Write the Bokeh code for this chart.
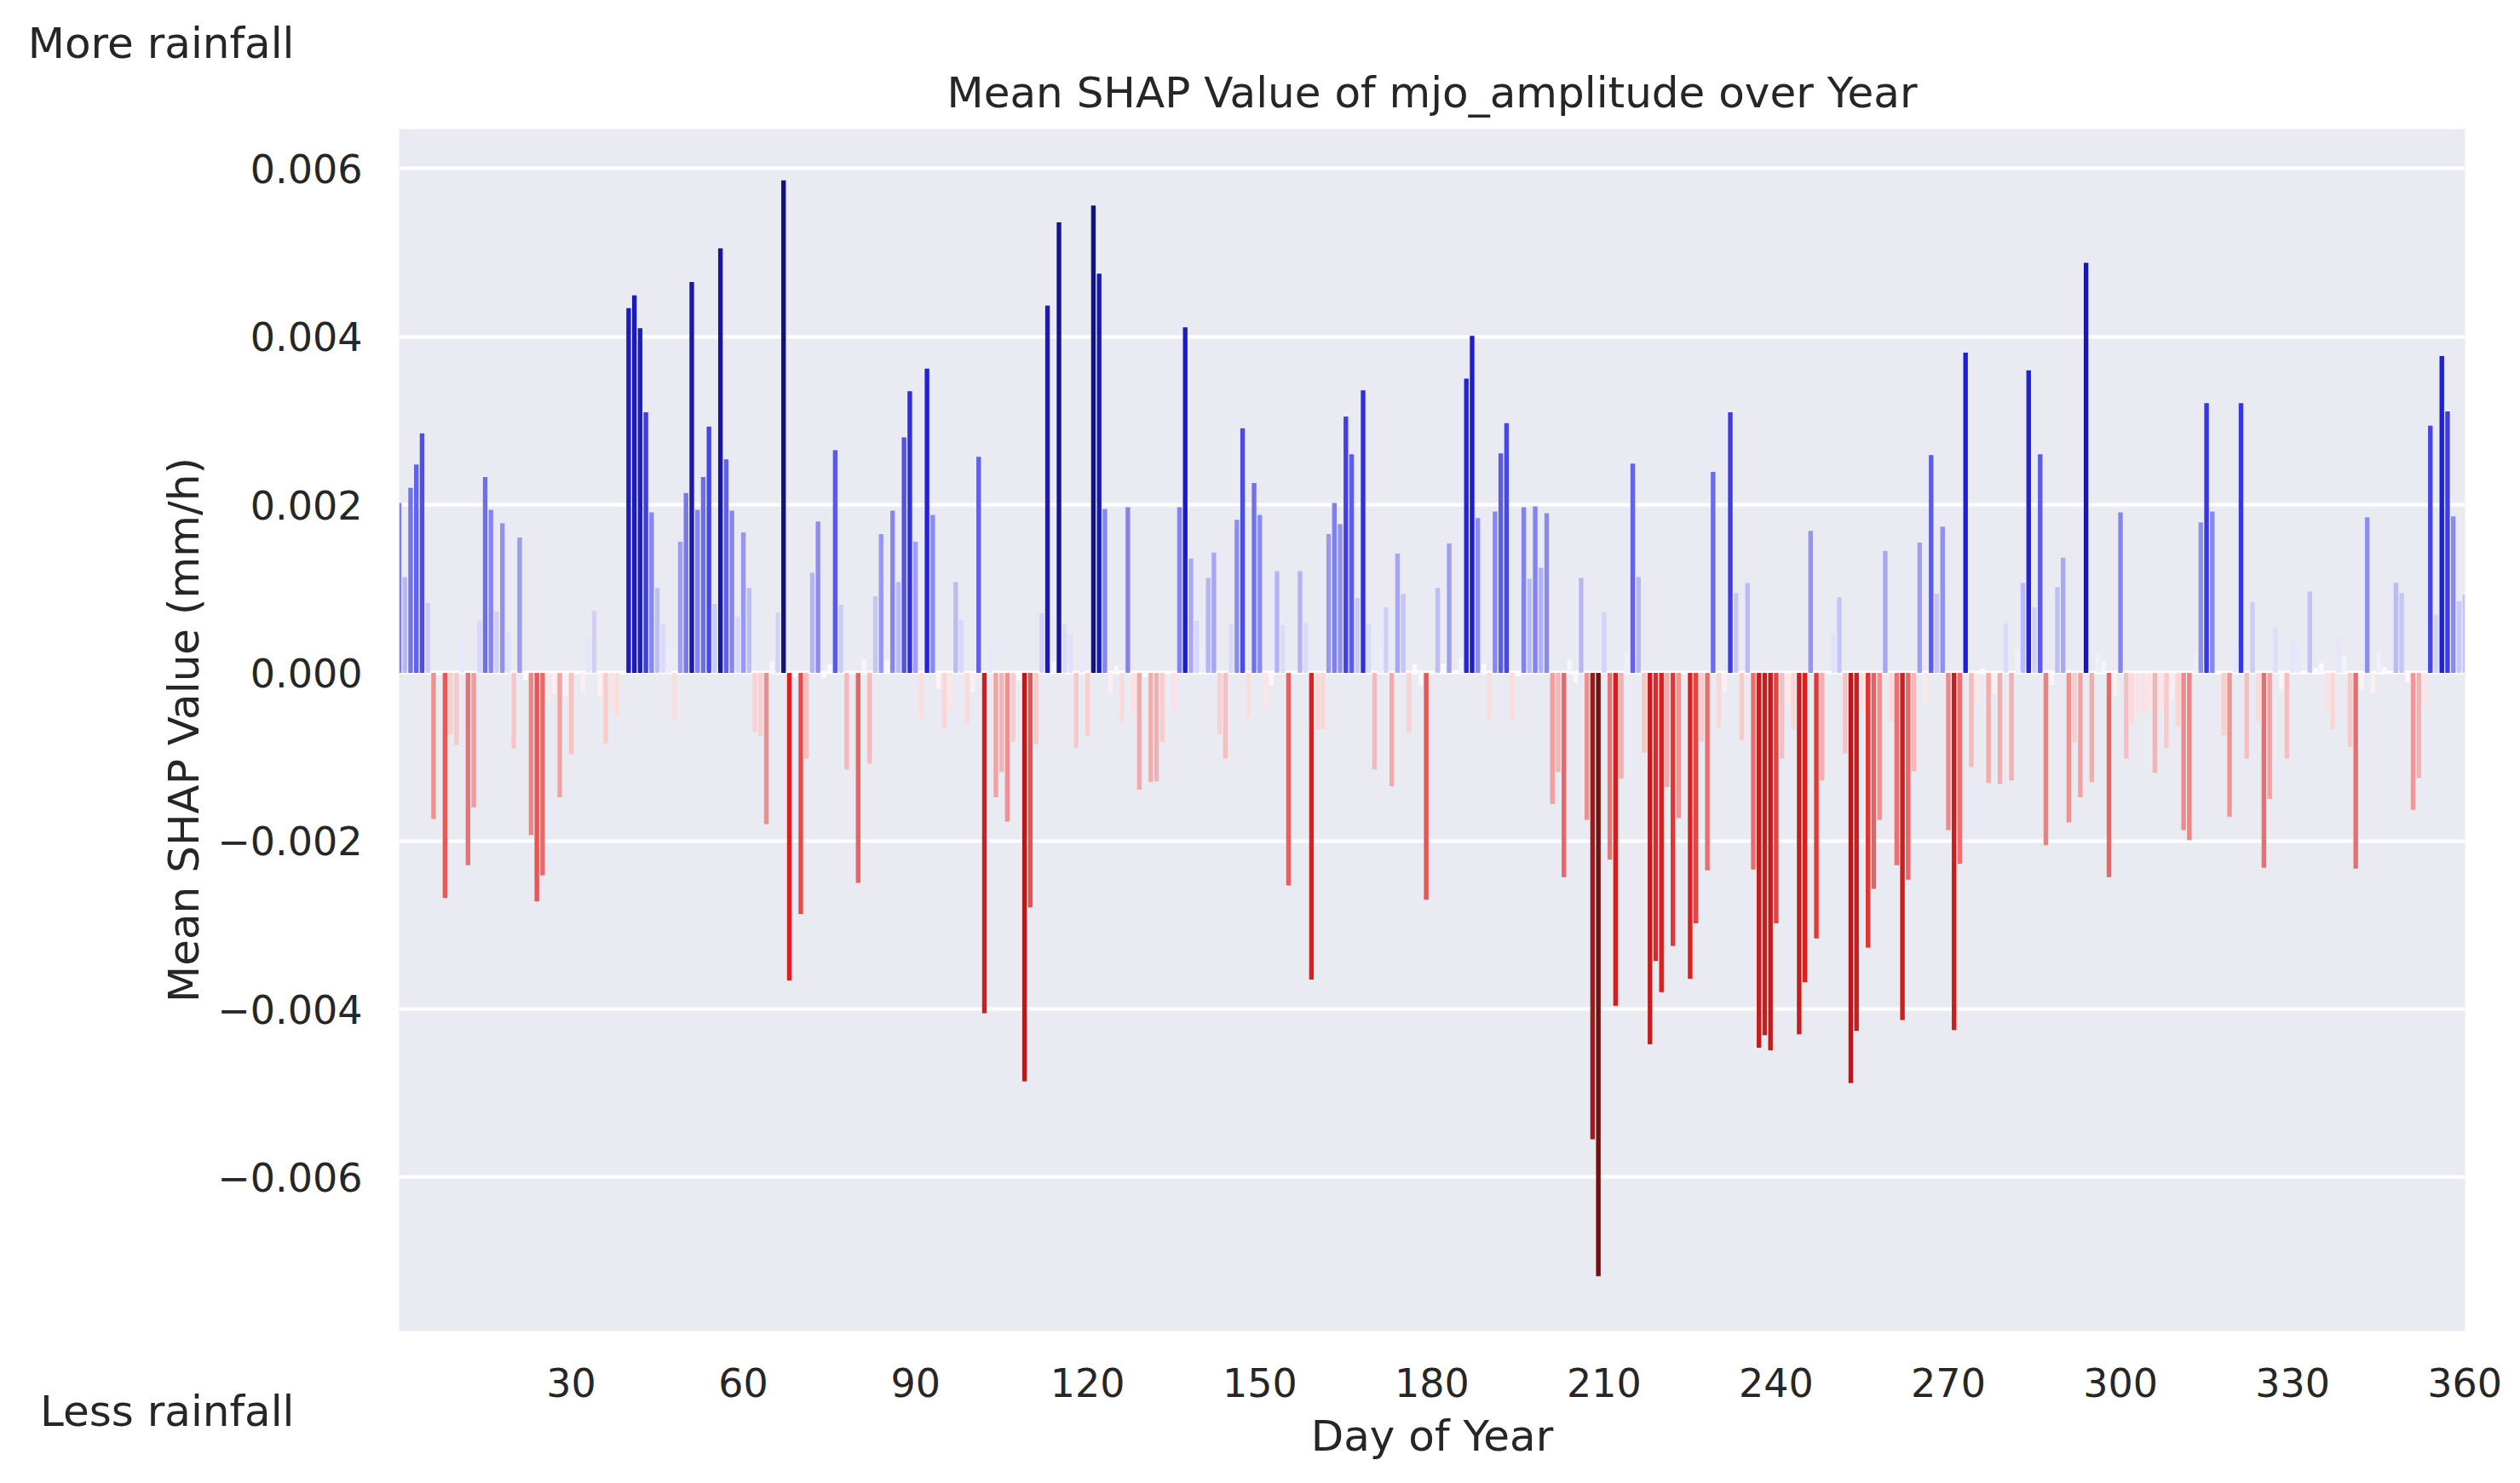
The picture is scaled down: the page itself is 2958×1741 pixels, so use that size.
import colorsys

from bokeh.embed import file_html
from bokeh.models import (ColumnDataSource, CustomJSTickFormatter, FixedTicker,
                          LinearColorMapper, Range1d, Title)
from bokeh.plotting import figure
from bokeh.resources import INLINE

# mean SHAP value per day-of-year position (0..360)
shap_values = [
    0.00202, 0.00114, 0.00220, 0.00248, 0.00285, 0.00083, -0.00174, -0.00003, -0.00268, -0.00073,
    -0.00086, 0.00039, -0.00229, -0.00160, 0.00062, 0.00233, 0.00194, 0.00073, 0.00178, 0.00049,
    -0.00090, 0.00161, -0.00009, -0.00193, -0.00272, -0.00241, -0.00036, -0.00025, -0.00148, -0.00028,
    -0.00097, -0.00002, -0.00023, 0.00042, 0.00074, -0.00028, -0.00084, -0.00045, -0.00052, 0.00000,
    0.00434, 0.00449, 0.00410, 0.00310, 0.00191, 0.00101, 0.00058, 0.00032, -0.00055, 0.00156,
    0.00214, 0.00465, 0.00194, 0.00233, 0.00293, 0.00082, 0.00505, 0.00254, 0.00193, 0.00067,
    0.00167, 0.00101, -0.00071, -0.00075, -0.00180, 0.00014, 0.00072, 0.00586, -0.00366, -0.00005,
    -0.00287, -0.00102, 0.00119, 0.00180, -0.00006, 0.00010, 0.00265, 0.00081, -0.00115, 0.00000,
    -0.00250, 0.00016, -0.00108, 0.00091, 0.00165, 0.00016, 0.00193, 0.00108, 0.00280, 0.00335,
    0.00156, -0.00054, 0.00362, 0.00188, -0.00019, -0.00066, -0.00042, 0.00108, 0.00063, -0.00061,
    -0.00023, 0.00257, -0.00405, 0.00039, -0.00148, -0.00118, -0.00177, -0.00082, -0.00009, -0.00486,
    -0.00279, -0.00085, 0.00071, 0.00437, 0.00013, 0.00536, 0.00058, 0.00047, -0.00089, 0.00034,
    -0.00075, 0.00556, 0.00475, 0.00195, -0.00023, 0.00008, -0.00058, 0.00197, -0.00048, -0.00139,
    -0.00005, -0.00130, -0.00129, -0.00082, 0.00000, -0.00046, 0.00197, 0.00411, 0.00136, 0.00062,
    0.00031, 0.00113, 0.00143, -0.00073, -0.00102, 0.00058, 0.00182, 0.00291, -0.00053, 0.00226,
    0.00188, -0.00043, -0.00015, 0.00121, 0.00057, -0.00253, 0.00000, 0.00121, 0.00059, -0.00365,
    -0.00067, -0.00067, 0.00165, 0.00202, 0.00177, 0.00305, 0.00260, 0.00089, 0.00336, 0.00058,
    -0.00115, 0.00031, 0.00078, -0.00135, 0.00142, 0.00094, -0.00071, 0.00010, -0.00015, -0.00270,
    0.00000, 0.00101, 0.00011, 0.00154, 0.00003, 0.00017, 0.00350, 0.00401, 0.00184, 0.00011,
    -0.00056, 0.00192, 0.00261, 0.00297, -0.00056, -0.00004, 0.00197, 0.00112, 0.00198, 0.00125,
    0.00190, -0.00156, -0.00118, -0.00243, 0.00016, -0.00012, 0.00113, -0.00175, -0.00555, -0.00718,
    0.00072, -0.00222, -0.00396, -0.00126, 0.00024, 0.00249, 0.00114, -0.00095, -0.00442, -0.00343,
    -0.00380, -0.00136, -0.00325, -0.00173, 0.00000, -0.00364, -0.00298, -0.00082, -0.00235, 0.00239,
    -0.00066, -0.00023, 0.00310, 0.00095, -0.00080, 0.00107, -0.00234, -0.00446, -0.00431, -0.00449,
    -0.00298, -0.00102, -0.00038, -0.00067, -0.00430, -0.00368, 0.00169, -0.00316, -0.00128, 0.00002,
    0.00047, 0.00090, -0.00096, -0.00488, -0.00426, -0.00047, -0.00327, -0.00257, -0.00175, 0.00145,
    -0.00058, -0.00229, -0.00413, -0.00246, -0.00117, 0.00155, -0.00035, 0.00259, 0.00094, 0.00174,
    -0.00187, -0.00425, -0.00227, 0.00381, -0.00112, -0.00036, 0.00005, -0.00131, -0.00025, -0.00132,
    0.00059, -0.00128, 0.00028, 0.00107, 0.00360, 0.00078, 0.00260, -0.00205, -0.00014, 0.00102,
    0.00137, -0.00178, -0.00083, -0.00148, 0.00488, -0.00130, 0.00023, 0.00014, -0.00243, -0.00028,
    0.00191, -0.00102, -0.00060, -0.00050, -0.00047, -0.00043, -0.00119, -0.00042, -0.00089, -0.00032,
    -0.00064, -0.00187, -0.00199, 0.00023, 0.00179, 0.00321, 0.00192, 0.00000, -0.00074, -0.00171,
    0.00034, 0.00321, -0.00102, 0.00084, -0.00058, -0.00232, -0.00150, 0.00054, -0.00019, -0.00102,
    0.00040, 0.00035, 0.00001, 0.00097, 0.00006, 0.00011, -0.00045, -0.00067, 0.00043, 0.00019,
    -0.00088, -0.00233, -0.00019, 0.00185, -0.00024, 0.00025, 0.00007, 0.00001, 0.00107, 0.00095,
    -0.00011, -0.00163, -0.00125, -0.00043, 0.00294, 0.00069, 0.00377, 0.00311, 0.00186, 0.00085,
    0.00093,
]
day_positions = list(range(len(shap_values)))

x_ticks = [30, 60, 90, 120, 150, 180, 210, 240, 270, 300, 330, 360]
y_ticks = [-0.006, -0.004, -0.002, 0.0, 0.002, 0.004, 0.006]

TEXT = "#262626"
FONT = "DejaVu Sans"


def seismic(s):
    # matplotlib "seismic" anchors
    pts = [(0.0, (0.0, 0.0, 0.3)), (0.25, (0.0, 0.0, 1.0)), (0.5, (1.0, 1.0, 1.0)),
           (0.75, (1.0, 0.0, 0.0)), (1.0, (0.5, 0.0, 0.0))]
    for (s0, c0), (s1, c1) in zip(pts[:-1], pts[1:]):
        if s <= s1:
            f = (s - s0) / (s1 - s0)
            return tuple(a + (b - a) * f for a, b in zip(c0, c1))
    return pts[-1][1]


def desaturate(rgb, prop=0.75):
    h, l, s = colorsys.rgb_to_hls(*rgb)
    r, g, b = colorsys.hls_to_rgb(h, l, s * prop)
    return "#%02x%02x%02x" % (round(r * 255), round(g * 255), round(b * 255))


# reversed seismic: negative -> red, positive -> blue
palette = [desaturate(seismic(1 - i / 255)) for i in range(256)]
vmax = max(abs(v) for v in shap_values)
mapper = LinearColorMapper(palette=palette, low=-vmax, high=vmax)

source = ColumnDataSource(data=dict(day=day_positions, shap=shap_values))

p = figure(
    width=2942, height=1733, title=None,
    x_range=Range1d(0, 360.05), y_range=Range1d(-0.00783, 0.00647),
    output_backend="svg", toolbar_location=None,
    min_border_left=468, min_border_right=49, min_border_top=151, min_border_bottom=171,
    background_fill_color="#eaeaf2", border_fill_color="white",
)
p.outline_line_color = None

p.vbar(x="day", top="shap", bottom=0, width=0.8, source=source,
       fill_color={"field": "shap", "transform": mapper}, line_color=None)


def title(text, **kw):
    return Title(text=text, text_font=FONT, text_font_size="50px",
                 text_font_style="normal", text_color=TEXT, **kw)


p.add_layout(title("Mean SHAP Value of mjo_amplitude over Year", align="center", standoff=28),
             "above")
# side notes at the far left, right-aligned on the same edge
p.add_layout(title("More rainfall", align="right", offset=2548, standoff=-32), "above")
p.add_layout(title("Less rainfall", align="right", offset=2548, vertical_align="top",
                   standoff=-180), "below")

p.xgrid.grid_line_color = None
p.ygrid.grid_line_color = "white"
p.ygrid.grid_line_width = 4
p.ygrid.ticker = FixedTicker(ticks=y_ticks)

for ax in (p.xaxis[0], p.yaxis[0]):
    ax.axis_line_color = None
    ax.major_tick_line_color = None
    ax.minor_tick_line_color = None
    ax.major_tick_out = 0
    ax.minor_tick_out = 0
    ax.major_label_text_font = FONT
    ax.major_label_text_font_size = "46px"
    ax.major_label_text_color = TEXT
    ax.axis_label_text_font = FONT
    ax.axis_label_text_font_size = "50px"
    ax.axis_label_text_font_style = "normal"
    ax.axis_label_text_color = TEXT

p.xaxis.ticker = FixedTicker(ticks=x_ticks)
p.xaxis.axis_label = "Day of Year"
p.xaxis.major_label_standoff = 43
p.xaxis.axis_label_standoff = 14

p.yaxis.ticker = FixedTicker(ticks=y_ticks)
p.yaxis.formatter = CustomJSTickFormatter(
    code="return (tick < -1e-9 ? '\u2212' : '') + Math.abs(tick).toFixed(3);")
p.yaxis.axis_label = "Mean SHAP Value (mm/h)"
p.yaxis.major_label_standoff = 43
p.yaxis.axis_label_standoff = 7

open("out.html", "w").write(file_html(p, INLINE))
